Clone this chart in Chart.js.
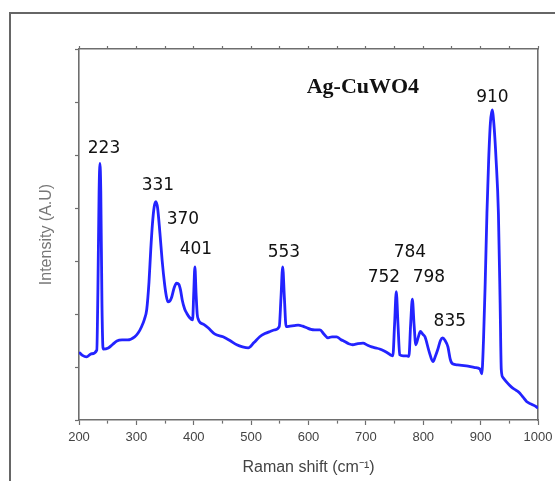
<!DOCTYPE html>
<html>
<head>
<meta charset="utf-8">
<script src="https://cdn.jsdelivr.net/npm/chart.js@4.4.1/dist/chart.umd.min.js"></script>
<style>
    html, body { margin: 0; padding: 0; background: #fff; overflow: hidden; }
    #wrap { position: relative; width: 555px; height: 481px; }
    #frame { position: absolute; left: 9px; top: 12px; width: 600px; height: 520px;
             border-left: 2px solid #666; border-top: 2px solid #666; }
    #chart { position: absolute; left: 0; top: 0; }
</style>
</head>
<body>
<div id="wrap">
    <div id="frame"></div>
    <canvas id="chart" width="555" height="481"></canvas>
</div>
<script>
'use strict';

// Raman spectrum (x in cm-1, intensity in arbitrary units)
const ramanShift = [
    200, 206, 213, 222, 231, 233, 235, 236.5, 238, 240, 242, 251, 258, 266, 275, 285,
    297, 303, 309, 314, 318, 322, 325, 328, 331, 334, 337, 341, 345, 349, 352, 355,
    358, 361, 366, 370, 374, 377, 380, 384, 388, 393, 398, 400, 402, 404, 406, 408,
    411, 418, 425, 437, 451, 463, 475, 485, 495, 505, 515, 524, 533, 541, 549, 552,
    555, 558, 561, 568, 575, 582, 590, 597, 604, 611, 620, 627, 634, 641, 649, 656,
    663, 670, 677, 686, 695, 703, 710, 717, 724, 732, 740, 744, 747, 750, 753, 756,
    759, 765, 771, 775, 778, 781, 784, 787, 791, 795, 799, 803, 810, 817, 821, 825,
    830, 834, 838, 843, 847, 851, 860, 875, 890, 899, 902, 905, 908, 911, 914, 917,
    920, 923, 927, 931, 934, 936, 939, 945, 950, 956, 962, 968, 974, 980, 988, 997, 1000
];
const intensity = [
    1.28, 1.22, 1.19, 1.25, 1.32, 2.5, 4.3, 4.84, 4.3, 2.2, 1.34, 1.36, 1.42, 1.49, 1.51, 1.51,
    1.57, 1.64, 1.76, 1.9, 2.08, 2.6, 3.2, 3.7, 4.02, 4.12, 4.0, 3.53, 3.0, 2.58, 2.35, 2.23,
    2.24, 2.3, 2.5, 2.58, 2.56, 2.45, 2.26, 2.1, 2.01, 1.93, 1.89, 2.4, 2.89, 2.4, 2.0, 1.9,
    1.84, 1.8, 1.74, 1.62, 1.57, 1.5, 1.42, 1.38, 1.36, 1.46, 1.57, 1.63, 1.67, 1.7, 1.76, 2.3,
    2.89, 2.3, 1.76, 1.77, 1.78, 1.79, 1.77, 1.74, 1.71, 1.7, 1.7, 1.62, 1.55, 1.57, 1.57, 1.52,
    1.48, 1.44, 1.42, 1.44, 1.45, 1.41, 1.38, 1.36, 1.34, 1.3, 1.25, 1.22, 1.21, 1.8, 2.42, 1.8,
    1.23, 1.21, 1.21, 1.2, 1.8, 2.28, 1.8, 1.42, 1.55, 1.67, 1.62, 1.57, 1.3, 1.1, 1.2, 1.32,
    1.5, 1.55, 1.5, 1.38, 1.15, 1.06, 1.04, 1.02, 0.99, 0.96, 0.87, 1.5, 2.6, 3.9, 4.9, 5.6,
    5.85, 5.6, 4.9, 3.9, 2.2, 0.95, 0.8, 0.72, 0.66, 0.6, 0.56, 0.51, 0.43, 0.35, 0.3, 0.25, 0.22
];

// peak annotations
const peakLabels = ['223', '331', '370', '401', '553', '752', '784', '798', '835', '910'];
const sampleName = 'Ag-CuWO4';

// where each annotation sits, in axis units
const peakLabelX = [243.6, 337.6, 381.2, 403.8, 557.1, 731.4, 776.7, 809.8, 846.3, 920.5];
const peakLabelY = [5.13, 4.43, 3.79, 3.21, 3.15, 2.68, 3.15, 2.68, 1.85, 6.08];
const sampleNameAt = [694.8, 6.28];

const axisColor = '#6e6e6e';

const annotations = {
    id: 'annotations',
    afterDatasetsDraw(chart) {
        const ctx = chart.ctx;
        const xs = chart.scales.x;
        const ys = chart.scales.y;
        ctx.save();
        ctx.textAlign = 'center';
        ctx.textBaseline = 'middle';
        ctx.fillStyle = '#111';
        ctx.font = '17px "DejaVu Sans"';
        peakLabels.forEach((t, i) => {
            ctx.fillText(t, xs.getPixelForValue(peakLabelX[i]), ys.getPixelForValue(peakLabelY[i]));
        });
        ctx.font = 'bold 22px "Liberation Serif"';
        ctx.fillText(sampleName, xs.getPixelForValue(sampleNameAt[0]), ys.getPixelForValue(sampleNameAt[1]));
        ctx.restore();
    }
};

// minor ticks drawn short through a dash pattern
const minorDash = (ctx) => (ctx.tick && ctx.tick.value % 100 !== 0) ? [3, 20] : [];

new Chart(document.getElementById('chart'), {
    type: 'line',
    data: {
        datasets: [{
            data: ramanShift.map((x, i) => ({x: x, y: intensity[i]})),
            borderColor: 'rgb(35, 35, 255)',
            borderWidth: 2.8,
            pointRadius: 0,
            fill: false,
            cubicInterpolationMode: 'monotone'
        }]
    },
    options: {
        responsive: false,
        animation: false,
        devicePixelRatio: 1,
        layout: { padding: 0 },
        plugins: {
            legend: { display: false },
            tooltip: { enabled: false }
        },
        scales: {
            x: {
                type: 'linear',
                position: 'bottom',
                min: 200,
                max: 1000,
                afterFit: (s) => { s.height = 61; s.paddingLeft = 0; s.paddingRight = 0; },
                border: { color: axisColor, width: 1.6 },
                grid: {
                    drawOnChartArea: false,
                    tickLength: 5,
                    tickColor: axisColor,
                    tickWidth: 1.2,
                    tickBorderDash: minorDash
                },
                ticks: {
                    stepSize: 50,
                    autoSkip: false,
                    maxRotation: 0,
                    padding: 5,
                    color: '#444',
                    font: { family: '"Liberation Sans", Arial', size: 13 },
                    callback: (v) => (v % 100 === 0 ? v : '')
                },
                title: {
                    display: true,
                    text: 'Raman shift (cm\u207B\u00B9)',
                    color: '#444',
                    font: { family: '"Liberation Sans", Arial', size: 16 },
                    padding: { top: 0, bottom: 4 }
                }
            },
            x2: {
                type: 'linear',
                position: 'top',
                min: 200,
                max: 1000,
                afterFit: (s) => { s.height = 49; s.paddingLeft = 0; s.paddingRight = 0; },
                border: { color: axisColor, width: 1.6 },
                grid: {
                    drawOnChartArea: false,
                    tickLength: 3,
                    tickColor: axisColor,
                    tickWidth: 1.2
                },
                ticks: { display: false, stepSize: 50 }
            },
            y: {
                type: 'linear',
                position: 'left',
                min: 0,
                max: 7,
                afterFit: (s) => { s.width = 79; s.paddingTop = 0; s.paddingBottom = 0; },
                border: { color: axisColor, width: 1.6 },
                grid: {
                    drawOnChartArea: false,
                    tickLength: 4,
                    tickColor: axisColor,
                    tickWidth: 1.2
                },
                ticks: { display: false, stepSize: 1 },
                title: {
                    display: true,
                    text: 'Intensity (A.U)',
                    color: '#777',
                    font: { family: '"Liberation Sans", Arial', size: 16 },
                    padding: { top: 37, bottom: 0 }
                }
            },
            y2: {
                type: 'linear',
                position: 'right',
                min: 0,
                max: 7,
                afterFit: (s) => { s.width = 17; s.paddingTop = 0; s.paddingBottom = 0; },
                border: { color: axisColor, width: 1.6 },
                grid: { drawOnChartArea: false, drawTicks: false },
                ticks: { display: false }
            }
        }
    },
    plugins: [annotations]
});
</script>
</body>
</html>
